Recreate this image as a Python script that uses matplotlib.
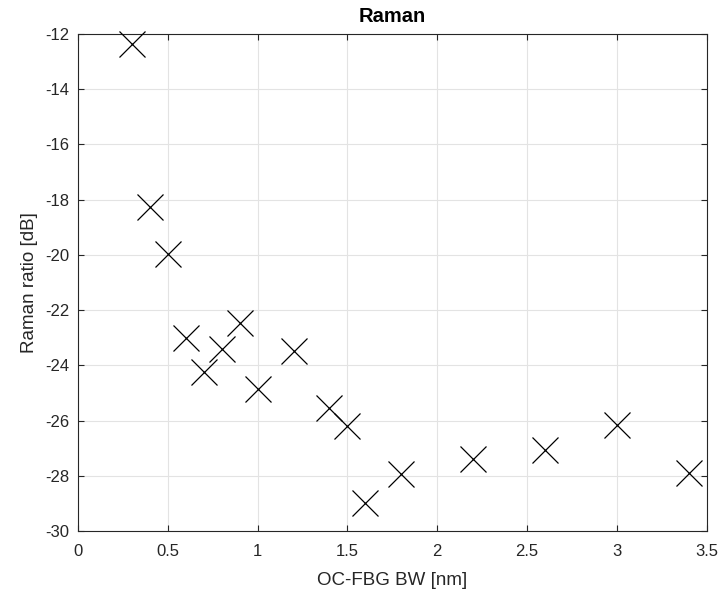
import matplotlib
matplotlib.use("Agg")
import matplotlib.pyplot as plt

# OC-FBG bandwidth [nm] vs Raman ratio [dB]
bw_nm = [0.3, 0.4, 0.5, 0.6, 0.7, 0.8, 0.9, 1.0, 1.2, 1.4, 1.5, 1.6, 1.8, 2.2, 2.6, 3.0, 3.4]
raman_db = [-12.35, -18.26, -19.97, -23.0, -24.23, -23.39, -22.48, -24.87, -23.47,
            -25.56, -26.2, -29.0, -27.92, -27.4, -27.05, -26.17, -27.88]

xticks = [0, 0.5, 1, 1.5, 2, 2.5, 3, 3.5]
xticklabels = ["0", "0.5", "1", "1.5", "2", "2.5", "3", "3.5"]
yticks = list(range(-30, -11, 2))

plt.rcParams["font.family"] = ["Liberation Sans", "DejaVu Sans"]

fig = plt.figure(figsize=(7.21, 5.94), dpi=100)
ax = fig.add_axes([0.108, 0.106, 0.8724, 0.8367])

ax.plot(bw_nm, raman_db, linestyle="none", marker="x", markersize=19,
        markeredgewidth=0.9, color="black", clip_on=False, zorder=3)

ax.set_xlim(0, 3.5)
ax.set_ylim(-30, -12)
ax.set_xticks(xticks)
ax.set_xticklabels(xticklabels)
ax.set_yticks(yticks)
ax.set_yticklabels([str(v) for v in yticks])

ax.grid(True, color="#e3e3e3", linewidth=0.8)
ax.set_axisbelow(True)

axis_col = "#262626"
for sp in ax.spines.values():
    sp.set_color(axis_col)
    sp.set_linewidth(0.8)
ax.tick_params(direction="in", length=4, width=0.8, colors=axis_col,
               labelsize=12, top=True, right=True, pad=6)
ax.tick_params(axis="x", pad=9)
for lbl in ax.get_xticklabels() + ax.get_yticklabels():
    lbl.set_color(axis_col)

ax.set_xlabel("OC-FBG BW [nm]", fontsize=13.5, color=axis_col, labelpad=10)
ax.set_ylabel("Raman ratio [dB]", fontsize=13.5, color=axis_col, labelpad=5)
ax.set_title("Raman", fontsize=14.5, fontweight="bold", pad=9)

fig.savefig("out.png", dpi=100)
